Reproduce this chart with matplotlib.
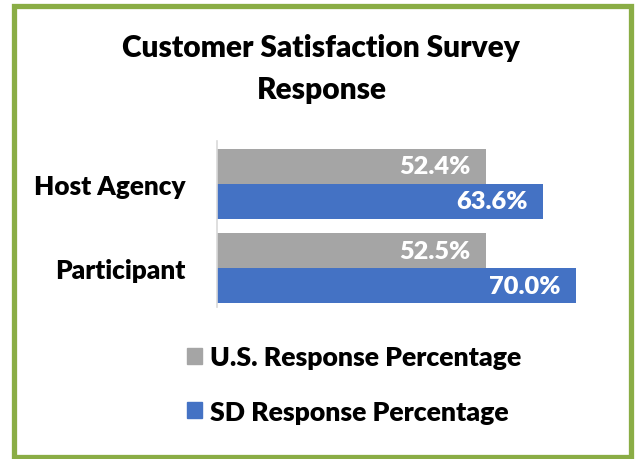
import matplotlib.pyplot as plt
from matplotlib.patches import Patch, Rectangle

categories = ['Host Agency', 'Participant']
us_pct = [52.4, 52.5]
sd_pct = [63.6, 70.0]
series_names = ['U.S. Response Percentage', 'SD Response Percentage']

GRAY = '#a5a5a5'
BLUE = '#4472c4'
GREEN = '#8aad45'
W = 'heavy'

plt.rcParams['font.family'] = ['Lato', 'DejaVu Sans']
plt.rcParams['font.weight'] = W

fig = plt.figure(figsize=(6.39, 4.6), dpi=100)
ax = fig.add_axes([217 / 639, 1 - 308 / 460, (627 - 217) / 639, 166 / 460])

h = 0.414
pos = list(range(len(categories)))
ax.barh([p - h / 2 for p in pos], us_pct, height=h, color=GRAY)
ax.barh([p + h / 2 for p in pos], sd_pct, height=h, color=BLUE)

for p, v in zip(pos, us_pct):
    ax.text(v - 3.0, p - h / 2, f'{v:.1f}%', ha='right', va='center',
            color='white', fontsize=18.3, fontweight=W)
for p, v in zip(pos, sd_pct):
    ax.text(v - 3.0, p + h / 2, f'{v:.1f}%', ha='right', va='center',
            color='white', fontsize=18.3, fontweight=W)

ax.set_xlim(0, 80)
ax.set_ylim(1.46, -0.503)
ax.set_yticks(pos)
ax.set_yticklabels(categories, fontsize=18.8, fontweight=W)
ax.tick_params(axis='y', length=0, pad=23)
ax.set_xticks([])
for s in ['top', 'right', 'bottom']:
    ax.spines[s].set_visible(False)
ax.spines['left'].set_color('#d9d9d9')
ax.spines['left'].set_linewidth(1.2)

fig.text(0.503, 1 - 48 / 460, 'Customer Satisfaction Survey', ha='center',
         va='center', fontsize=21.5, fontweight=W)
fig.text(0.503, 1 - 90 / 460, 'Response', ha='center', va='center',
         fontsize=21.5, fontweight=W)

handles = [Patch(color=GRAY), Patch(color=BLUE)]
fig.legend(handles, series_names, loc='upper left',
           bbox_to_anchor=(163 / 639, 1 - 322 / 460), frameon=False,
           handlelength=0.55, handleheight=0.55,
           handletextpad=0.3, labelspacing=1.15,
           prop={'weight': W, 'size': 19.2})

fig.patches.append(Rectangle((14 / 639, 1 - 458 / 460), 617 / 639, 451 / 460,
                             transform=fig.transFigure, fill=False,
                             edgecolor=GREEN, linewidth=3.8))

fig.savefig('out.png', dpi=100, facecolor='white')
